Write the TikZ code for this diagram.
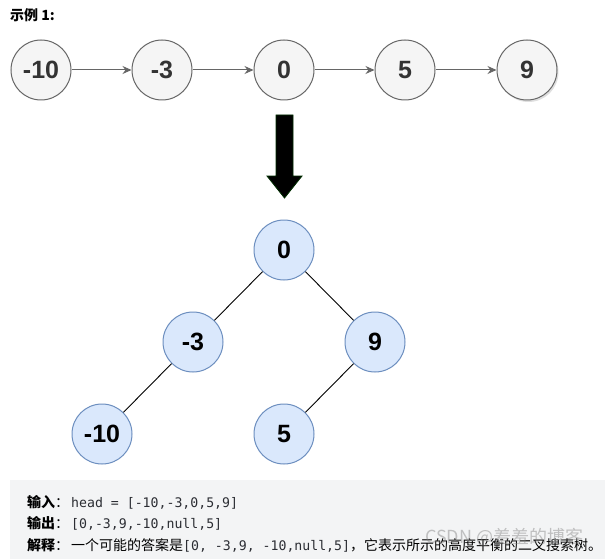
\documentclass[tikz,border=0pt]{standalone}
\usepackage{fontspec}
\setmainfont{Liberation Sans}
\setmonofont{DejaVu Sans Mono}
\newfontfamily\cjk{Noto Sans CJK SC}
\newfontfamily\numfont{Liberation Sans}
\usetikzlibrary{arrows.meta,shadows}
\definecolor{listfill}{HTML}{F5F5F5}
\definecolor{liststroke}{HTML}{666666}
\definecolor{listtext}{HTML}{333333}
\definecolor{treefill}{HTML}{DAE8FC}
\definecolor{treestroke}{HTML}{6C8EBF}
\definecolor{boxfill}{HTML}{F3F4F5}
\definecolor{codecol}{HTML}{2B2D33}
\tikzset{
  listnode/.style={circle, minimum size=60pt, inner sep=0pt, fill=listfill, draw=liststroke, line width=1pt,
    font=\numfont\bfseries\fontsize{25}{28}\selectfont, text=listtext},
  treenode/.style={circle, minimum size=60pt, inner sep=0pt, fill=treefill, draw=treestroke, line width=1pt,
    font=\numfont\bfseries\fontsize{25}{28}\selectfont, text=black},
  listarrow/.style={draw=liststroke, line width=1pt, -{Stealth[length=9pt,width=8pt]}},
  treeedge/.style={draw=black, line width=0.9pt},
  txt/.style={anchor=base west, inner sep=0pt, font=\fontsize{14}{16}\selectfont},
}
\newcommand\codetxt[1]{{\ttfamily\fontsize{13.2}{16}\selectfont\color{codecol}#1}}
\begin{document}
\begin{tikzpicture}[x=1pt,y=-1pt]
\useasboundingbox (0,0) rectangle (605,559);
\fill[white] (0,0) rectangle (605,559);
% title
\node[anchor=west, inner sep=0pt] (title) at (10,15) {\cjk\bfseries\fontsize{14}{16}\selectfont 示例 1:};
% linked list
\node[listnode] (l1) at (41,70) {-10};
\node[listnode] (l2) at (162,70) {-3};
\node[listnode] (l3) at (284,70) {0};
\node[listnode] (l4) at (405,70) {5};
\node[listnode, drop shadow={opacity=0.25, shadow xshift=1.5pt, shadow yshift=-2pt}] (l5) at (527,70) {9};
\draw[listarrow] (l1) -- (l2);
\draw[listarrow] (l2) -- (l3);
\draw[listarrow] (l3) -- (l4);
\draw[listarrow] (l4) -- (l5);
% big arrow
\filldraw[fill=black, draw=black!70!green!60!black, line width=0.8pt]
  (276,115) -- (293,115) -- (293,176) -- (302,176) -- (284.5,198) -- (267,176) -- (276,176) -- cycle;
% tree
\node[treenode] (t0) at (284,250) {0};
\node[treenode] (tm3) at (193,342) {-3};
\node[treenode] (t9) at (375,342) {9};
\node[treenode] (tm10) at (102,434) {-10};
\node[treenode] (t5) at (284,434) {5};
\draw[treeedge] (t0) -- (tm3);
\draw[treeedge] (t0) -- (t9);
\draw[treeedge] (tm3) -- (tm10);
\draw[treeedge] (t9) -- (t5);
% bottom box
\fill[boxfill] (10,480) rectangle (605,559);
\node[txt] (line1) at (27,507) {{\cjk\bfseries 输入}{\cjk ：}\hspace{2pt}\codetxt{head = [-10,-3,0,5,9]}};
\node[txt] (line2) at (27,528) {{\cjk\bfseries 输出}{\cjk ：}\hspace{2pt}\codetxt{[0,-3,9,-10,null,5]}};
\node[txt] (line3) at (27,550) {{\cjk\bfseries 解释}{\cjk ：}\hspace{2pt}{\cjk 一个可能的答案是}\codetxt{[0, -3,9, -10,null,5]}{\cjk ，它表示所示的高度平衡的二叉搜索树。}};
% watermark
\node[anchor=west, inner sep=0pt, text=gray, opacity=0.45, font=\cjk\fontsize{18}{20}\selectfont] (wm) at (425,537) {CSDN @羞羞的博客};
\end{tikzpicture}
\end{document}
